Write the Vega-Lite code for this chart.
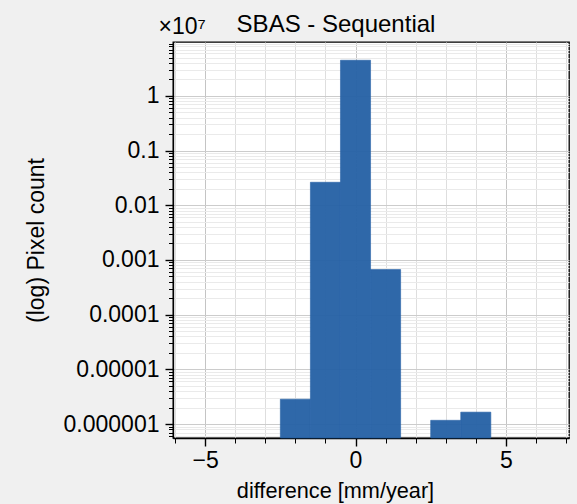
{
  "$schema": "https://vega.github.io/schema/vega-lite/v6.json",
  "width": 396,
  "height": 396,
  "autosize": {"type": "none"},
  "padding": {"left": 173, "top": 42, "right": 8, "bottom": 66},
  "background": "#f0f0f0",
  "title": {
    "text": "SBAS - Sequential",
    "frame": "group",
    "anchor": "middle",
    "dx": -35,
    "offset": -41,
    "baseline": "alphabetic",
    "font": "Liberation Sans",
    "fontSize": 24,
    "fontWeight": "normal",
    "color": "#000000"
  },
  "config": {
    "font": "Liberation Sans",
    "view": {"fill": "#ffffff", "stroke": "#000000", "strokeWidth": 1.3}
  },
  "data": {
    "values": [
      {"bin_start": -2.5, "bin_end": -1.5, "count": 0.00000285},
      {"bin_start": -1.5, "bin_end": -0.5, "count": 0.0263},
      {"bin_start": -0.5, "bin_end": 0.5, "count": 4.47},
      {"bin_start": 0.5, "bin_end": 1.5, "count": 0.000667},
      {"bin_start": 2.5, "bin_end": 3.5, "count": 0.00000117},
      {"bin_start": 3.5, "bin_end": 4.5, "count": 0.00000165}
    ]
  },
  "layer": [
    {
      "mark": {"type": "bar", "fill": "#2662a6", "fillOpacity": 0.96, "stroke": "#2662a6", "strokeWidth": 0.6},
      "encoding": {
        "x": {
          "field": "bin_start",
          "type": "quantitative",
          "scale": {"domain": [-6.07, 7.1], "nice": false, "zero": false},
          "axis": {
            "title": "difference [mm/year]",
            "titleFontSize": 21.7,
            "titleFontWeight": "normal",
            "titleColor": "#000000",
            "titleX": 162,
            "titleY": 59,
            "titleAlign": "center",
            "titleBaseline": "alphabetic",
            "values": [-6, -5, -4, -3, -2, -1, 0, 1, 2, 3, 4, 5, 6, 7],
            "labelExpr": "datum.value % 5 == 0 ? replace(format(datum.value, 'd'), '-', '\u2212') : ''",
            "labelOverlap": false,
            "labelFlush": false,
            "labelFontSize": 23,
            "labelColor": "#000000",
            "labelPadding": 3,
            "tickColor": "#000000",
            "tickSize": {"condition": {"test": "datum.value % 5 == 0", "value": 8}, "value": 5},
            "tickWidth": {"condition": {"test": "datum.value % 5 == 0", "value": 1.4}, "value": 1},
            "gridColor": {"condition": {"test": "datum.value % 5 == 0", "value": "#c4c4c4"}, "value": "#dedede"},
            "gridWidth": 1,
            "domainColor": "#000000",
            "domainWidth": 1.3
          }
        },
        "x2": {"field": "bin_end"},
        "y": {
          "field": "count",
          "type": "quantitative",
          "scale": {"type": "log", "domain": [0.000000556, 9.64], "nice": false},
          "axis": {
            "title": "(log) Pixel count",
            "titleFontSize": 23,
            "titleFontWeight": "normal",
            "titleColor": "#000000",
            "titleX": -130,
            "titleY": 198,
            "titleAngle": -90,
            "titleAlign": "center",
            "titleBaseline": "alphabetic",
            "values": [
              6e-7, 7e-7, 8e-7, 9e-7,
              1e-6, 2e-6, 3e-6, 4e-6, 5e-6, 6e-6, 7e-6, 8e-6, 9e-6,
              1e-5, 2e-5, 3e-5, 4e-5, 5e-5, 6e-5, 7e-5, 8e-5, 9e-5,
              0.0001, 0.0002, 0.0003, 0.0004, 0.0005, 0.0006, 0.0007, 0.0008, 0.0009,
              0.001, 0.002, 0.003, 0.004, 0.005, 0.006, 0.007, 0.008, 0.009,
              0.01, 0.02, 0.03, 0.04, 0.05, 0.06, 0.07, 0.08, 0.09,
              0.1, 0.2, 0.3, 0.4, 0.5, 0.6, 0.7, 0.8, 0.9,
              1, 2, 3, 4, 5, 6, 7, 8, 9
            ],
            "labelExpr": "abs(log(datum.value) / LN10 - round(log(datum.value) / LN10)) < 0.001 ? format(datum.value, '.6~f') : ''",
            "labelOverlap": false,
            "labelFlush": false,
            "labelFontSize": 23,
            "labelColor": "#000000",
            "labelPadding": 6,
            "tickColor": "#000000",
            "tickSize": {"condition": {"test": "abs(log(datum.value) / LN10 - round(log(datum.value) / LN10)) < 0.001", "value": 8}, "value": 4.5},
            "tickWidth": {"condition": {"test": "abs(log(datum.value) / LN10 - round(log(datum.value) / LN10)) < 0.001", "value": 1.4}, "value": 1},
            "gridColor": {"condition": {"test": "abs(log(datum.value) / LN10 - round(log(datum.value) / LN10)) < 0.001", "value": "#cccccc"}, "value": "#eaeaea"},
            "gridWidth": 1,
            "domainColor": "#000000",
            "domainWidth": 1.3
          }
        },
        "y2": {"value": "height"}
      }
    },
    {
      "mark": {"type": "bar", "fillOpacity": 0, "strokeOpacity": 0},
      "encoding": {
        "x": {
          "field": "bin_start",
          "type": "quantitative",
          "axis": {
            "orient": "top",
            "title": "×10⁷",
            "titleFontSize": 23,
            "titleFontWeight": "normal",
            "titleColor": "#000000",
            "titleAnchor": "start",
            "titleAlign": "left",
            "titleX": -15,
            "titleY": -9,
            "titleBaseline": "alphabetic",
            "labels": false,
            "ticks": false,
            "domain": false,
            "grid": false
          }
        },
        "x2": {"field": "bin_end"},
        "y": {"field": "count", "type": "quantitative"},
        "y2": {"value": "height"}
      }
    }
  ],
  "resolve": {"axis": {"x": "independent"}}
}
